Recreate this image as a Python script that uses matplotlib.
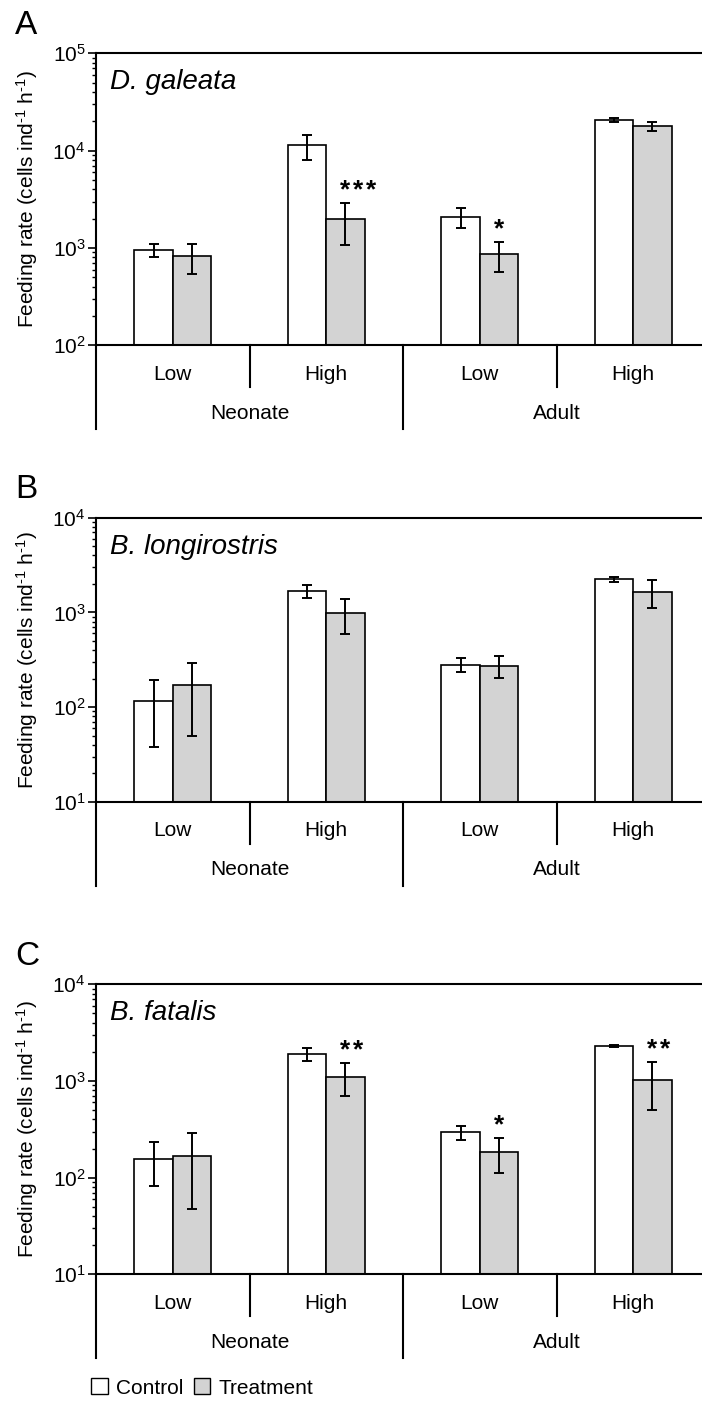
import matplotlib
matplotlib.use("Agg")
import matplotlib.pyplot as plt
from matplotlib.patches import Patch

plt.rcParams["font.family"] = "Liberation Sans"
plt.rcParams["mathtext.fontset"] = "custom"
plt.rcParams["mathtext.rm"] = "Liberation Sans"
plt.rcParams["mathtext.it"] = "Liberation Sans:italic"

# categories
groups = ["Low", "High", "Low", "High"]
stages = ["Neonate", "Adult"]
species = ["D. galeata", "B. longirostris", "B. fatalis"]
letters = ["A", "B", "C"]

# panel A - D. galeata
galeata_ctrl = [950, 11300, 2100, 20500]
galeata_ctrl_err = [150, 3200, 500, 1000]
galeata_trt = [820, 1980, 860, 17800]
galeata_trt_err = [280, 900, 290, 1700]
galeata_sig = ["", "***", "*", ""]

# panel B - B. longirostris
longi_ctrl = [115, 1680, 280, 2230]
longi_ctrl_err = [77, 260, 48, 120]
longi_trt = [170, 990, 273, 1640]
longi_trt_err = [120, 400, 70, 540]
longi_sig = ["", "", "", ""]

# panel C - B. fatalis
fatalis_ctrl = [157, 1900, 295, 2290]
fatalis_ctrl_err = [75, 285, 47, 70]
fatalis_trt = [167, 1110, 185, 1030]
fatalis_trt_err = [120, 410, 73, 535]
fatalis_sig = ["", "**", "*", "**"]

ylims = [(1e2, 1e5), (1e1, 1e4), (1e1, 1e4)]

panels = [
    (galeata_ctrl, galeata_ctrl_err, galeata_trt, galeata_trt_err, galeata_sig),
    (longi_ctrl, longi_ctrl_err, longi_trt, longi_trt_err, longi_sig),
    (fatalis_ctrl, fatalis_ctrl_err, fatalis_trt, fatalis_trt_err, fatalis_sig),
]

W, H = 702, 1403
fig = plt.figure(figsize=(W / 100, H / 100), dpi=100)

# axes boxes in pixels: (top, bottom)
boxes = [(53.3, 345.3), (517.7, 801.7), (984.3, 1274.3)]
left_px = 96
gray = "#d3d3d3"
bw = 0.25
x = list(range(len(groups)))

for i, (ctrl, ctrl_err, trt, trt_err, sig) in enumerate(panels):
    top, bot = boxes[i]
    hpx = bot - top
    ax = fig.add_axes([left_px / W, 1 - bot / H, 1 - left_px / W, hpx / H])
    ax.set_yscale("log")

    ekw = dict(elinewidth=1.4, capthick=1.4, ecolor="black")
    ax.bar([k - bw / 2 for k in x], ctrl, bw, color="white", edgecolor="black",
           linewidth=1.2, yerr=ctrl_err, capsize=3.5, error_kw=ekw, zorder=2)
    ax.bar([k + bw / 2 for k in x], trt, bw, color=gray, edgecolor="black",
           linewidth=1.2, yerr=trt_err, capsize=3.5, error_kw=ekw, zorder=2)

    # significance stars, one glyph at a time so spacing matches
    for k in x:
        n = len(sig[k])
        for s in range(n):
            ax.annotate("*", xy=(k + bw / 2, trt[k] + trt_err[k]),
                        xycoords="data", xytext=(13 * s, 6),
                        textcoords="offset pixels", ha="center", va="baseline",
                        fontsize=19, fontweight="bold")

    ax.set_xlim(-0.5, -0.5 + (W - left_px) / 153.5)
    ax.set_ylim(*ylims[i])
    ax.set_xticks([])
    ax.spines["right"].set_visible(False)
    for s in ["left", "top", "bottom"]:
        ax.spines[s].set_linewidth(1.5)
    ax.tick_params(axis="y", which="major", length=6, width=1.2, labelsize=15, pad=1.5)
    ax.tick_params(axis="y", which="minor", length=3, width=1.0)
    ax.tick_params(axis="x", which="both", length=0)

    ax.set_ylabel("Feeding rate (cells ind$^{\\mathdefault{\u20101}}$ h$^{\\mathdefault{\u20101}}$)",
                  fontsize=15, va="center")
    ax.yaxis.set_label_coords((27 - left_px) / (W - left_px), 0.5)

    ax.text(14 / (W - left_px), 1 - 29 / hpx, species[i], transform=ax.transAxes,
            fontsize=20, style="italic", ha="left", va="center")

    # category axis below
    tr = ax.get_xaxis_transform()
    short = -42 / hpx
    long_ = -84 / hpx
    for xs in [0.5, 2.5]:
        ax.plot([xs, xs], [0, short], transform=tr, color="black", lw=1.5, clip_on=False)
    for xs in [-0.5, 1.5]:
        ax.plot([xs, xs], [0, long_], transform=tr, color="black", lw=1.5, clip_on=False)
    for k in x:
        ax.text(k, -29 / hpx, groups[k], transform=tr, ha="center", va="center", fontsize=15)
    for j, st in enumerate(stages):
        ax.text(0.5 + 2 * j, -68 / hpx, st, transform=tr, ha="center", va="center", fontsize=15)

    fig.text(15 / W, 1 - (top - 28) / H, letters[i], fontsize=24, ha="left", va="center")

handles = [Patch(facecolor="white", edgecolor="black", linewidth=1.0),
           Patch(facecolor=gray, edgecolor="black", linewidth=1.0)]
fig.legend(handles, ["Control", "Treatment"], loc="center left",
           bbox_to_anchor=(91 / W, 1 - 1388 / H), ncol=2, frameon=False,
           fontsize=15, handlelength=0.8, handleheight=0.8, handletextpad=0.4,
           columnspacing=0.5, borderpad=0, borderaxespad=0)

fig.savefig("out.png", dpi=100)
